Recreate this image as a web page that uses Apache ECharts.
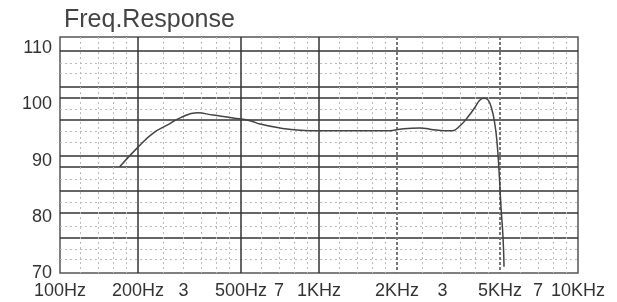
<!DOCTYPE html>
<html>
<head>
<meta charset="utf-8">
<title>Freq.Response</title>
<script src="https://cdn.jsdelivr.net/npm/echarts@6/dist/echarts.min.js"></script>
<style>
  html, body { margin: 0; padding: 0; background: #fff; }
  #chart { width: 617px; height: 302px; }
</style>
</head>
<body>
<div id="chart"></div>
<script>
// response curve (Hz, dB)
var freqs = [170, 200, 229, 259, 291, 338, 390, 466, 542, 592, 707, 845, 1000,
  1440, 1880, 2054, 2455, 2683, 3065, 3262, 3503, 3761, 4003, 4183, 4337,
  4494, 4656, 4781, 4867, 4954, 5044, 5134, 5181];
var spl = [88.9, 92.4, 94.9, 96.3, 97.6, 98.5, 98.1, 97.6, 97.1, 96.5, 95.8, 95.4, 95.3,
  95.3, 95.3, 95.6, 95.8, 95.6, 95.3, 95.3, 96.2, 97.8, 99.5, 100.8, 101.1,
  100.8, 99.0, 96.3, 93.3, 88.3, 81.7, 76.4, 71.1];

// x axis labels
var xLabelValues = [100, 200, 300, 500, 700, 1000, 2000, 3000, 5000, 7000, 10000];
var xLabels = ['100Hz', '200Hz', '3', '500Hz', '7', '1KHz', '2KHz', '3', '5KHz', '7', '10KHz'];
var yLabelValues = [70, 80, 90, 100, 110];

// grid lines of the original sheet
var xSolid = [200, 500, 1000];
var xDashed = [2000, 5000];
var xDotted = [120, 140, 160, 180, 250, 300, 350, 400, 450, 600, 700, 800, 900,
  1200, 1400, 1600, 1800, 2500, 3000, 3500, 4000, 4500, 6000, 7000, 8000, 9000];
var ySolid = [109.5, 103.1, 101.1, 97.2, 90.8, 88.9, 84.6, 80.7, 76.2];
var yDotted = [107.4, 105.6, 99.2, 95.3, 93.3, 86.7, 82.6, 78.4, 74.3, 72.5];

var chart = echarts.init(document.getElementById('chart'));

var font = 'Liberation Sans, Arial, sans-serif';

function xAxis(pos, ticks, lineStyle, labels) {
  return {
    type: 'log',
    logBase: 10,
    min: 100,
    max: 10000,
    position: pos,
    axisLine: { show: false },
    axisTick: { show: false, customValues: ticks },
    splitLine: { show: true, lineStyle: lineStyle },
    minorSplitLine: { show: false },
    axisLabel: labels ? {
      customValues: xLabelValues,
      color: '#333',
      fontFamily: font,
      fontSize: 18,
      margin: 9,
      formatter: function (v) {
        var i = xLabelValues.indexOf(Math.round(v));
        return i >= 0 ? xLabels[i] : '';
      }
    } : { show: false }
  };
}

function yAxis(pos, ticks, lineStyle, labels) {
  return {
    type: 'value',
    min: 70,
    max: 112,
    position: pos,
    axisLine: { show: false },
    axisTick: { show: false, customValues: ticks },
    splitLine: { show: true, lineStyle: lineStyle },
    axisLabel: labels ? {
      customValues: yLabelValues,
      color: '#333',
      fontFamily: font,
      fontSize: 18,
      margin: 8
    } : { show: false }
  };
}

var option = {
  backgroundColor: '#fff',
  animation: false,
  title: {
    text: 'Freq.Response',
    left: 59,
    top: 3,
    textStyle: { color: '#444', fontFamily: font, fontSize: 25, fontWeight: 'normal' }
  },
  grid: {
    left: 60, right: 39, top: 37, bottom: 29,
    show: true,
    borderColor: '#555',
    borderWidth: 1.5,
    backgroundColor: 'transparent'
  },
  xAxis: [
    xAxis('bottom', xSolid, { color: '#333', width: 1.5, type: 'solid' }, true),
    xAxis('top', xDashed, { color: '#777', width: 2, type: [3, 2] }, false),
    xAxis('bottom', xDotted, { color: '#bbb', width: 1, type: [2, 3] }, false)
  ],
  yAxis: [
    yAxis('left', ySolid, { color: '#333', width: 1.5, type: 'solid' }, true),
    yAxis('right', yDotted, { color: '#bbb', width: 1, type: [2, 3] }, false)
  ],
  series: [{
    name: 'SPL',
    type: 'line',
    xAxisIndex: 0,
    yAxisIndex: 0,
    data: freqs.map(function (f, i) { return [f, spl[i]]; }),
    showSymbol: false,
    smooth: 0.5,
    z: 5,
    lineStyle: { color: '#444', width: 1.5 }
  }]
};

chart.setOption(option);
</script>
</body>
</html>
